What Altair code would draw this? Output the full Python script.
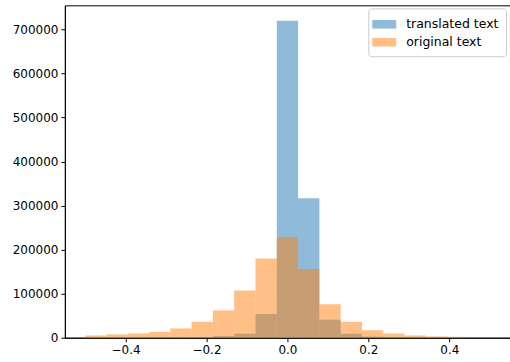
import altair as alt
import pandas as pd

# bin edges: 19 equal bins from -0.5 to 0.5
n_bins = 19
bin_lo = [-0.5 + k / n_bins for k in range(n_bins)]
bin_hi = [-0.5 + (k + 1) / n_bins for k in range(n_bins)]

translated = [100, 200, 300, 500, 800, 1500, 3600, 9000, 54000, 720000,
              317000, 41000, 9000, 2500, 1000, 500, 300, 200, 100]
original = [5000, 7500, 9700, 13000, 21000, 36000, 62000, 107000, 180000, 229000,
            156000, 76000, 36000, 17000, 9700, 5000, 3000, 2000, 0]

series_names = ["translated text", "original text"]
series_colors = ["#1f77b4", "#ff7f0e"]

rows = []
for i in range(n_bins):
    rows.append({"series": series_names[0], "lo": bin_lo[i], "hi": bin_hi[i], "count": translated[i], "ord": 0})
for i in range(n_bins):
    rows.append({"series": series_names[1], "lo": bin_lo[i], "hi": bin_hi[i], "count": original[i], "ord": 1})
df = pd.DataFrame(rows)

font = "DejaVu Sans"
fs = 12

chart = alt.Chart(df).mark_rect(opacity=0.5).encode(
    x=alt.X("lo:Q", scale=alt.Scale(domain=[-0.55, 0.55], nice=False, zero=False),
            axis=alt.Axis(values=[-0.4, -0.2, 0.0, 0.2, 0.4], format=".1f", title=None)),
    x2="hi:Q",
    y=alt.Y("count:Q", scale=alt.Scale(domain=[0, 755000], nice=False),
            axis=alt.Axis(values=[0, 100000, 200000, 300000, 400000, 500000, 600000, 700000],
                          format="d", title=None)),
    y2=alt.datum(0),
    color=alt.Color("series:N",
                    scale=alt.Scale(domain=series_names, range=series_colors),
                    legend=alt.Legend(title=None, orient="none", legendX=304, legendY=3,
                                      symbolType="M-1.4,-0.5L1.4,-0.5L1.4,0.5L-1.4,0.5Z",
                                      symbolSize=294, symbolOpacity=0.5, symbolStrokeWidth=0,
                                      labelFont=font, labelFontSize=12.5, labelColor="black",
                                      labelOffset=13, rowPadding=2, labelLimit=300,
                                      padding=7, strokeColor="#cccccc", fillColor="rgba(255,255,255,0.8)",
                                      cornerRadius=3)),
    order=alt.Order("ord:Q"),
).properties(
    width=446, height=333,
    autosize=alt.AutoSizeParams(type="none"),
    padding={"left": 65, "top": 5, "right": 0, "bottom": 24},
).configure_view(
    stroke="black", strokeWidth=1
).configure_axis(
    grid=False, domainColor="black", domainWidth=1, tickColor="black", tickSize=4,
    labelFont=font, labelFontSize=fs, labelColor="black", labelPadding=3,
).configure_legend(
    labelFont=font, labelFontSize=12.5
)

chart.save("out.html", embed_options={"renderer": "svg", "actions": False})
